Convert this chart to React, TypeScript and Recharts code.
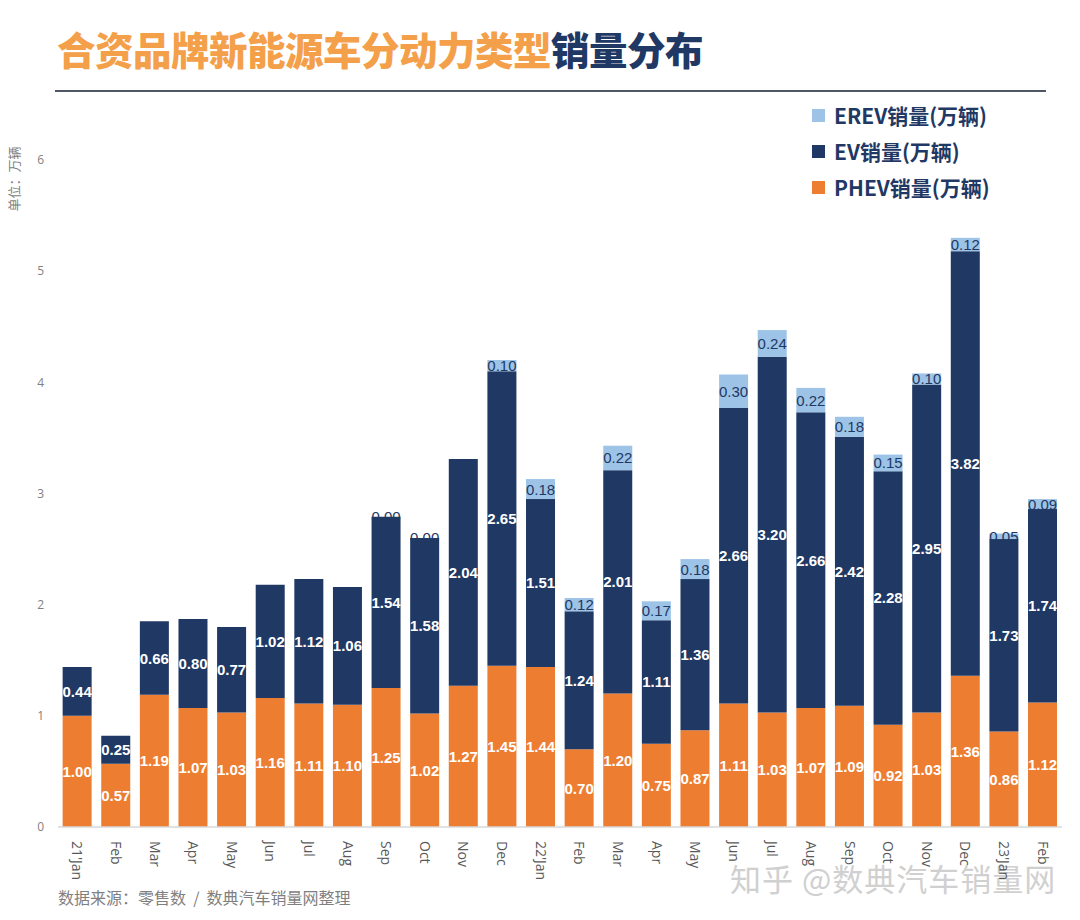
import React from 'react';
import { BarChart, Bar, XAxis, YAxis, LabelList } from 'recharts';

const categories = ["21'Jan", 'Feb', 'Mar', 'Apr', 'May', 'Jun', 'Jul', 'Aug', 'Sep', 'Oct', 'Nov', 'Dec', "22'Jan", 'Feb', 'Mar', 'Apr', 'May', 'Jun', 'Jul', 'Aug', 'Sep', 'Oct', 'Nov', 'Dec', "23'Jan", 'Feb'];
const phev = [1.00, 0.57, 1.19, 1.07, 1.03, 1.16, 1.11, 1.10, 1.25, 1.02, 1.27, 1.45, 1.44, 0.70, 1.20, 0.75, 0.87, 1.11, 1.03, 1.07, 1.09, 0.92, 1.03, 1.36, 0.86, 1.12];
const ev = [0.44, 0.25, 0.66, 0.80, 0.77, 1.02, 1.12, 1.06, 1.54, 1.58, 2.04, 2.65, 1.51, 1.24, 2.01, 1.11, 1.36, 2.66, 3.20, 2.66, 2.42, 2.28, 2.95, 3.82, 1.73, 1.74];
const erev: (number | null)[] = [null, null, null, null, null, null, null, null, 0.00, 0.00, null, 0.10, 0.18, 0.12, 0.22, 0.17, 0.18, 0.30, 0.24, 0.22, 0.18, 0.15, 0.10, 0.12, 0.05, 0.09];
const yTicks = [0, 1, 2, 3, 4, 5, 6];

const legendItems = [
  { label: 'EREV销量(万辆)', color: '#9DC3E6' },
  { label: 'EV销量(万辆)', color: '#1F3864' },
  { label: 'PHEV销量(万辆)', color: '#ED7D31' },
];

const data = categories.map((c, i) => ({ idx: i, cat: c, phev: phev[i], ev: ev[i], erev: erev[i], erevZero: erev[i] === 0 ? 0 : null }));

const NUM_FONT = '"Liberation Sans", Arial, sans-serif';
const CJK_FONT = '"Noto Sans CJK SC", "Noto Sans", sans-serif';

const makeLabel = (fill: string, weight: string, atTop = false) => (props: any) => {
  const { x, y, width, height, value } = props;
  if (value === null || value === undefined) return null;
  if (!atTop && Number(value) === 0) return null;
  const cy = atTop ? Number(y) : Number(y) + Number(height) / 2;
  return (
    <text
      x={Number(x) + Number(width) / 2}
      y={cy}
      textAnchor="middle"
      dominantBaseline="central"
      fill={fill}
      fontWeight={weight}
      fontSize={15}
      fontFamily={NUM_FONT}
    >
      {Number(value).toFixed(2)}
    </text>
  );
};

const XTick = (props: any) => {
  const { x, y, payload } = props;
  const label = categories[payload.value];
  return (
    <g transform={`translate(${x - 5},${y + 6})`}>
      <text transform="rotate(90)" x={0} y={0} textAnchor="start" fill="#595959" fontSize={14} fontFamily={'"Open Sans", sans-serif'}>
        {label}
      </text>
    </g>
  );
};

export default function App() {
  return (
    <div style={{ position: 'absolute', left: 0, top: 0, width: 1080, height: 920, background: '#fff', overflow: 'hidden' }}>
      <div style={{ position: 'absolute', left: 57, top: 22, fontFamily: CJK_FONT, fontWeight: 900, fontSize: 38.5, letterSpacing: -0.5, whiteSpace: 'nowrap', lineHeight: '52px' }}>
        <span style={{ color: '#F4A04A' }}>合资品牌新能源车分动力类型</span>
        <span style={{ color: '#1F3864' }}>销量分布</span>
      </div>
      <div style={{ position: 'absolute', left: 55, top: 90, width: 991, height: 2, background: '#4F5665' }} />
      <div style={{ position: 'absolute', left: 812, top: 97 }}>
        {legendItems.map((it) => (
          <div key={it.label} style={{ display: 'flex', alignItems: 'center', height: 36 }}>
            <div style={{ width: 13, height: 13, background: it.color, marginRight: 9 }} />
            <span style={{ fontFamily: CJK_FONT, fontWeight: 700, fontSize: 21, color: '#1F3864' }}>{it.label}</span>
          </div>
        ))}
      </div>
      <div style={{ position: 'absolute', left: 13, top: 179, transform: 'translate(-50%,-50%) rotate(-90deg)', fontFamily: CJK_FONT, fontSize: 13, color: '#7F7F7F', whiteSpace: 'nowrap' }}>
        单位：万辆
      </div>
      <div style={{ position: 'absolute', left: 58, top: 885, fontFamily: CJK_FONT, fontSize: 16, color: '#7F7F7F', whiteSpace: 'pre' }}>
        {'数据来源：零售数  /  数典汽车销量网整理'}
      </div>
      <div style={{ position: 'absolute', left: 730, top: 855, fontFamily: CJK_FONT, fontSize: 31, color: '#d0d0d0', whiteSpace: 'nowrap', letterSpacing: 1 }}>
        知乎 @数典汽车销量网
      </div>
      <div style={{ position: 'absolute', left: 0, top: 0 }}>
        <BarChart width={1080} height={920} data={data} margin={{ top: 160, right: 18, bottom: 43, left: 28 }} barCategoryGap="12%">
          <XAxis dataKey="idx" type="category" height={50} interval={0} tick={<XTick />} tickLine={false} axisLine={{ stroke: '#D9D9D9', strokeWidth: 1.5 }} />
          <YAxis type="number" domain={[0, 6]} ticks={yTicks} width={30} tickLine={false} axisLine={false} tickMargin={8} tick={{ fill: '#7F7F7F', fontSize: 12, fontFamily: '"Open Sans", sans-serif' }} />
          <Bar dataKey="phev" stackId="a" fill="#ED7D31" isAnimationActive={false}>
            <LabelList dataKey="phev" content={makeLabel('#FFFFFF', 'bold')} />
          </Bar>
          <Bar dataKey="ev" stackId="a" fill="#1F3864" isAnimationActive={false}>
            <LabelList dataKey="ev" content={makeLabel('#FFFFFF', 'bold')} />
            <LabelList dataKey="erevZero" content={makeLabel('#1F3864', 'normal', true)} />
          </Bar>
          <Bar dataKey="erev" stackId="a" fill="#9DC3E6" isAnimationActive={false}>
            <LabelList dataKey="erev" content={makeLabel('#1F3864', 'normal')} />
          </Bar>
        </BarChart>
      </div>
    </div>
  );
}
